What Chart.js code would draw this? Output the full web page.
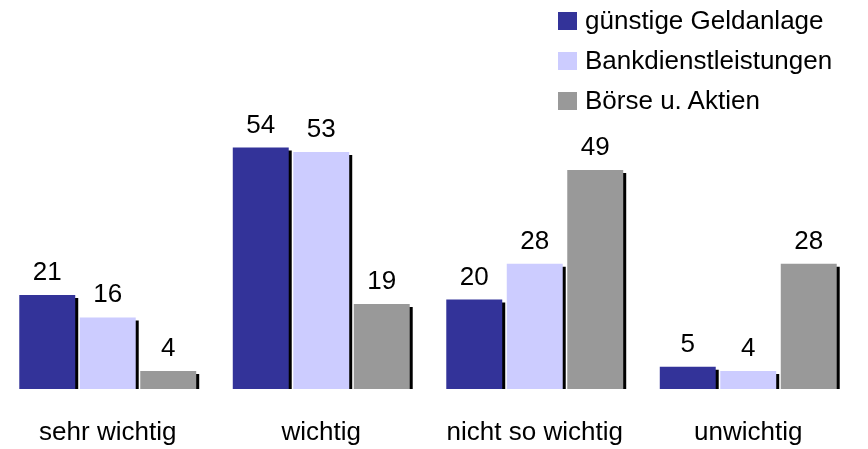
<!DOCTYPE html>
<html>
<head>
<meta charset="utf-8">
<script src="https://cdn.jsdelivr.net/npm/chart.js@4"></script>
<style>
  html, body { margin: 0; padding: 0; background: #fff; }
  #wrap { position: relative; width: 868px; height: 449px; }
  #legend { position: absolute; left: 558px; top: 2px; font-family: "Liberation Sans", Arial, sans-serif; font-size: 26px; color: #000; }
  #legend div { height: 40px; line-height: 36px; white-space: nowrap; }
  #legend span { display: inline-block; width: 19px; height: 18px; margin-right: 8px; vertical-align: -1px; }
</style>
</head>
<body>
<div id="wrap">
  <canvas id="chart" width="868" height="449"></canvas>
  <div id="legend"></div>
</div>
<script>
// Daten
const categories = ['sehr wichtig', 'wichtig', 'nicht so wichtig', 'unwichtig'];
const seriesNames = ['günstige Geldanlage', 'Bankdienstleistungen', 'Börse u. Aktien'];
const geldanlage = [21, 54, 20, 5];
const bankdienst = [16, 53, 28, 4];
const boerse = [4, 19, 49, 28];
const colors = ['#333399', '#CCCCFF', '#999999'];

// Legende als HTML
const legend = document.getElementById('legend');
seriesNames.forEach((name, i) => {
    const row = document.createElement('div');
    row.innerHTML = '<span style="background:' + colors[i] + '"></span>' + name;
    legend.appendChild(row);
});

// Schatten hinter den Balken
const shadowPlugin = {
    id: 'shadow',
    beforeDatasetsDraw(chart) {
        const ctx = chart.ctx;
        ctx.save();
        ctx.shadowColor = '#000';
        ctx.shadowOffsetX = 3;
        ctx.shadowOffsetY = 3;
        ctx.shadowBlur = 0;
    },
    afterDatasetsDraw(chart) {
        chart.ctx.restore();
    }
};

// Werte über den Balken
const valuePlugin = {
    id: 'values',
    afterDatasetsDraw(chart) {
        const ctx = chart.ctx;
        ctx.save();
        ctx.font = '26px "Liberation Sans", Arial, sans-serif';
        ctx.fillStyle = '#000';
        ctx.textAlign = 'center';
        ctx.textBaseline = 'alphabetic';
        chart.data.datasets.forEach((ds, i) => {
            chart.getDatasetMeta(i).data.forEach((bar, j) => {
                ctx.fillText(ds.data[j], bar.x, bar.y - 15);
            });
        });
        ctx.restore();
    }
};

const ctx = document.getElementById('chart').getContext('2d');
new Chart(ctx, {
    type: 'bar',
    data: {
        labels: categories,
        datasets: [
            { label: seriesNames[0], data: geldanlage, backgroundColor: colors[0] },
            { label: seriesNames[1], data: bankdienst, backgroundColor: colors[1] },
            { label: seriesNames[2], data: boerse, backgroundColor: colors[2] }
        ]
    },
    options: {
        responsive: false,
        animation: false,
        events: [],
        layout: { padding: { left: 1, right: 13, top: 0, bottom: 2 } },
        datasets: { bar: { categoryPercentage: 0.85, barPercentage: 0.925 } },
        plugins: { legend: { display: false }, tooltip: { enabled: false } },
        scales: {
            x: {
                grid: { display: false, drawTicks: false },
                border: { display: false },
                afterFit(scale) { scale.height = 58; },
                ticks: {
                    color: '#000',
                    padding: 28,
                    maxRotation: 0,
                    font: { family: '"Liberation Sans", Arial, sans-serif', size: 26 }
                }
            },
            y: {
                display: false,
                min: 0,
                max: 87
            }
        }
    },
    plugins: [shadowPlugin, valuePlugin]
});
</script>
</body>
</html>
